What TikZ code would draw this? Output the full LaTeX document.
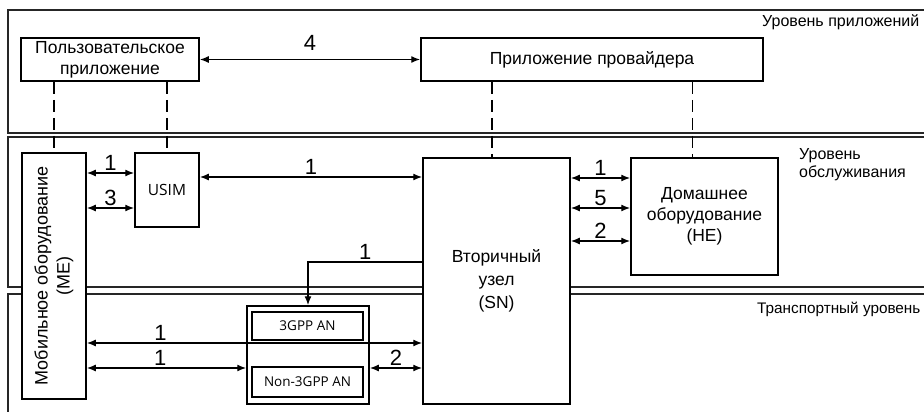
\documentclass[tikz,border=0pt]{standalone}
\usepackage{fontspec}
\setmainfont{Liberation Sans}
\newfontfamily\anfont{Open Sans}
\usetikzlibrary{arrows.meta}

\begin{document}
\begin{tikzpicture}[x=1pt,y=-1pt,>={Latex[length=9pt,width=7pt]},
  blk/.style={draw,line width=1.5pt,fill=white,align=center,inner sep=2pt,font=\fontsize{17.5}{21}\selectfont},
  layer/.style={draw=black!85,line width=1.4pt},
  dsh/.style={line width=1.5pt,dash pattern=on 12pt off 6pt},
  conn/.style={line width=1.4pt,<->},
  num/.style={font=\fontsize{22}{26}\selectfont,inner sep=1.5pt,above},
  lvl/.style={font=\fontsize{16}{18.5}\selectfont,inner sep=0pt,align=left}]
\useasboundingbox (0,0) rectangle (924,412);
\clip (0,0) rectangle (924,412);
% layers
\draw[layer] (8,10) rectangle (940,133);
\draw[layer] (8,137) rectangle (940,287);
\draw[layer] (8,294) rectangle (940,420);
\node[lvl,anchor=base west] (lvlapp) at (762,27) {Уровень приложений};
\node[lvl,anchor=north west] (lvlsrv) at (799,148) {Уровень\\обслуживания};
\node[lvl,anchor=base west,font=\fontsize{15.3}{18}\selectfont] (lvltr) at (757,313) {Транспортный уровень};
% boxes
\node[blk,minimum width=178pt,minimum height=43pt] (ua) at (110,59.5) {Пользовательское\\приложение};
\node[blk,minimum width=342pt,minimum height=43pt] (pa) at (592,59.5) {Приложение провайдера};
\node[blk,minimum width=64pt,minimum height=246pt] (me) at (54,276) {};
\node[rotate=90,align=center,font=\fontsize{18}{22}\selectfont] (melbl) at (me.center) {Мобильное оборудование\\(ME)};
\node[blk,minimum width=64pt,minimum height=74pt,font=\anfont\fontsize{15.5}{18}\selectfont] (usim) at (167,190) {USIM};
\node[blk,minimum width=147pt,minimum height=246pt,font=\fontsize{17.5}{23}\selectfont] (sn) at (496.5,281) {Вторичный\\узел\\(SN)};
\node[blk,minimum width=147pt,minimum height=117pt] (he) at (704.5,216.5) {Домашнее\\оборудование\\(HE)};
\node[blk,minimum width=122pt,minimum height=98pt] (an) at (308,355) {};
\node[blk,minimum width=111pt,minimum height=28pt,font=\anfont\fontsize{13.5}{16}\selectfont] (an3) at (307.5,326) {3GPP AN};
\node[blk,minimum width=111pt,minimum height=30pt,font=\anfont\fontsize{13.5}{16}\selectfont] (annon) at (307.5,382) {Non-3GPP AN};
\coordinate (hetop) at ([xshift=-12pt]he.north);
\coordinate (sntop) at ([xshift=-4.5pt]sn.north);
% dashed links between layers
\draw[dsh] (ua.south -| me.north) -- (me.north);
\draw[dsh] (ua.south -| usim.north) -- (usim.north);
\draw[dsh] (pa.south -| sntop) -- (sntop);
\draw[dsh] (pa.south -| hetop) -- (hetop);
% reference points
\draw[conn] (ua.east) -- node[num,above=7pt] (n4) {4} (pa.west);
\draw[conn] (me.east |- 0,173) -- node[num] (n1a) {1} (usim.west |- 0,173);
\draw[conn] (me.east |- 0,208) -- node[num] (n3) {3} (usim.west |- 0,208);
\draw[conn] (usim.east |- 0,177) -- node[num] (n1b) {1} (sn.west |- 0,177);
\draw[conn] (sn.east |- 0,178) -- node[num] (n1c) {1} (he.west |- 0,178);
\draw[conn] (sn.east |- 0,208) -- node[num] (n5) {5} (he.west |- 0,208);
\draw[conn] (sn.east |- 0,241) -- node[num] (n2a) {2} (he.west |- 0,241);
\draw[line width=1.4pt,->] (sn.west |- 0,262) -| node[num,pos=0.25] (n1d) {1} (an.north);
\draw[conn] (me.east |- 0,343) -- node[num,pos=0.22] (n1e) {1} (sn.west |- 0,343);
\draw[conn] (me.east |- 0,368) -- node[num,pos=0.46] (n1f) {1} (an.west |- 0,368);
\draw[conn] (an.east |- 0,368) -- node[num] (n2b) {2} (sn.west |- 0,368);
\end{tikzpicture}
\end{document}
